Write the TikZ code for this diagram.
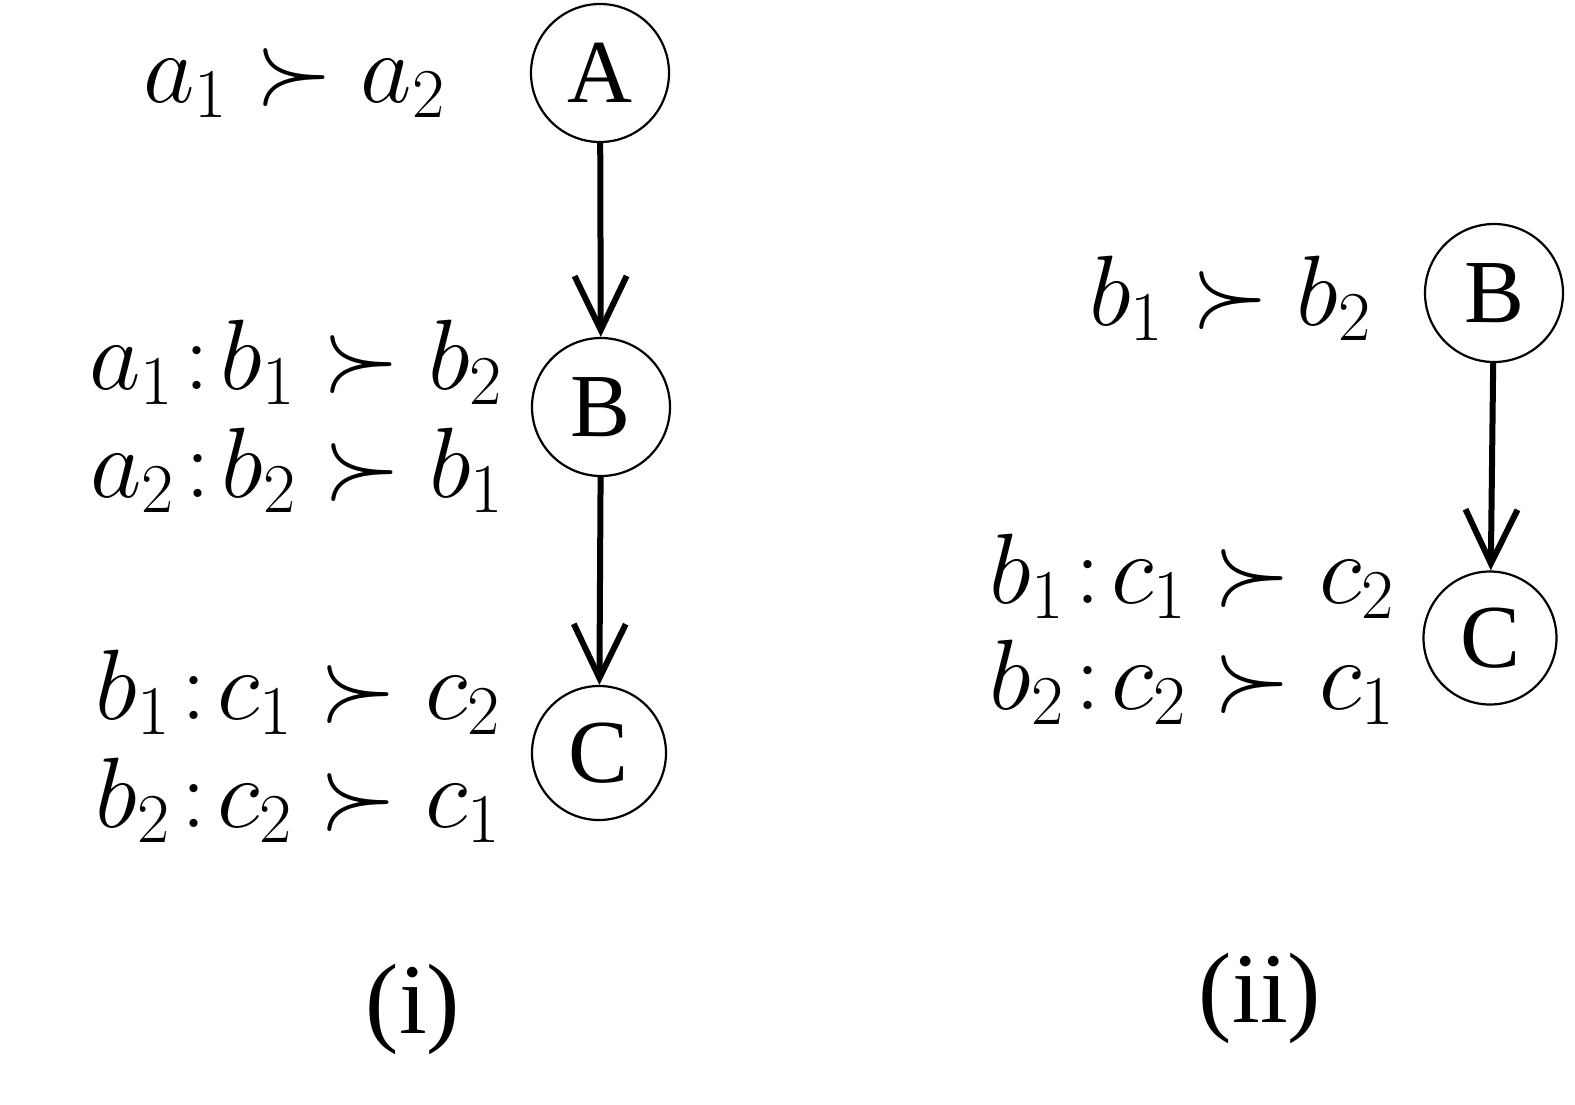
\RequirePackage{fix-cm}
\documentclass[tikz,border=0pt]{standalone}
\usepackage{fontspec}
\newfontfamily\timesf{Liberation Serif}
\usetikzlibrary{arrows.meta}
\newcommand{\cln}{\mkern2mu\mathbf{:}\mkern2mu}
\begin{document}
\begin{tikzpicture}[x=1pt,y=-1pt,
  state/.style={circle,draw,line width=2.2pt,inner sep=0pt,font=\timesf\fontsize{90}{90}\selectfont},
  edge/.style={line width=6pt,-{Straight Barb[length=54pt,width=52pt,line width=6pt]}},
  lbl/.style={anchor=base,inner sep=0pt,font=\fontsize{100}{100}\selectfont},
  capt/.style={anchor=base,inner sep=0pt,font=\timesf\fontsize{100}{100}\selectfont}]
\useasboundingbox (0,0) rectangle (1575,1104);
% (i)
\node[state,minimum size=138pt] (A) at (600,73) {A};
\node[state,minimum size=138pt] (B) at (601,407) {B};
\node[state,minimum size=134pt] (C) at (599,753) {C};
\draw[edge] (A) -- (B);
\draw[edge] (B) -- (C);
\node[lbl] (la) at (294,102) {$a_1 \succ a_2$};
\node[lbl] (lb1) at (296,389) {$a_1\cln b_1 \succ b_2$};
\node[lbl] (lb2) at (297,497) {$a_2\cln b_2 \succ b_1$};
\node[lbl] (lc1) at (298,719) {$b_1\cln c_1 \succ c_2$};
\node[lbl] (lc2) at (298,827) {$b_2\cln c_2 \succ c_1$};
\node[capt] (ci) at (413,1033) {(i)};
% (ii)
\node[state,minimum size=138pt] (B2) at (1494,293) {B};
\node[state,minimum size=133pt] (C2) at (1490,638) {C};
\draw[edge] (B2) -- (C2);
\node[lbl] (rb) at (1230,325) {$b_1 \succ b_2$};
\node[lbl] (rc1) at (1192,603) {$b_1\cln c_1 \succ c_2$};
\node[lbl] (rc2) at (1192,709) {$b_2\cln c_2 \succ c_1$};
\node[capt] (cii) at (1260,1022) {(ii)};
\end{tikzpicture}
\end{document}
